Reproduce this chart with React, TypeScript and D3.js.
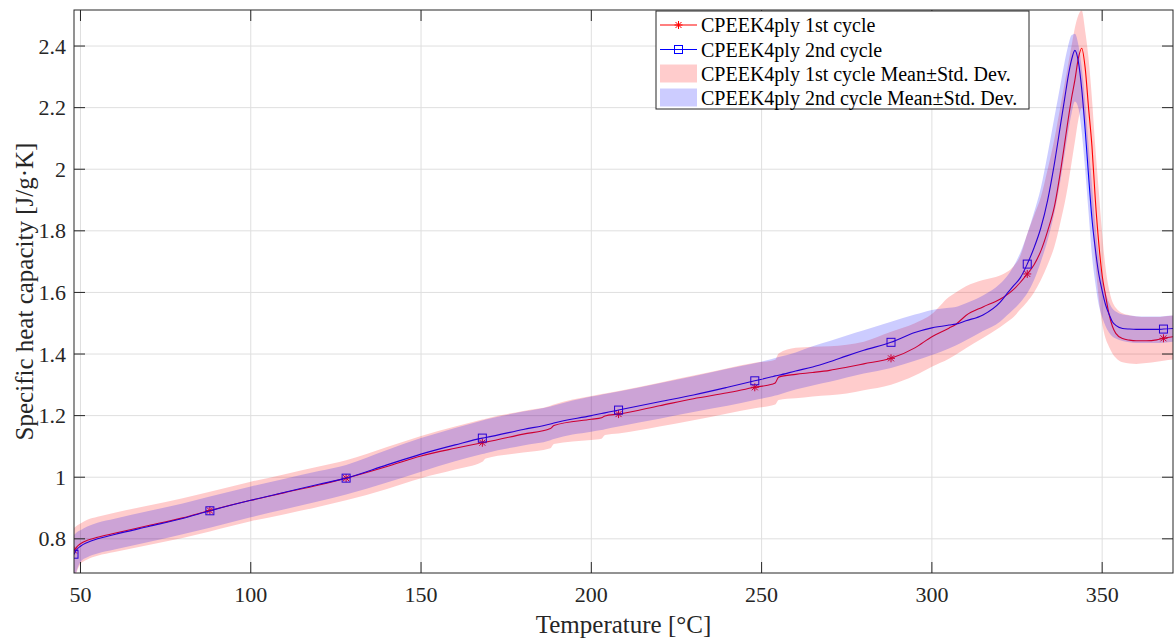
import React from "react";
import * as d3 from "d3";

// Temperature grid [°C]
const temps = [48.1, 49, 50, 52, 55, 60, 70, 80, 88,
  100, 110, 120, 128, 140, 150, 160, 168, 169,
  180, 188, 189, 200, 203, 204, 208, 220, 230, 240, 248,
  253, 254, 255, 260, 265, 270, 275, 280, 288, 295, 300,
  305, 307, 310, 315, 320, 322, 324, 326, 328, 330,
  332, 334, 336, 338, 339, 340, 341, 342, 343, 344, 345,
  346, 347, 348, 349, 350, 351, 352, 353, 354, 356,
  358, 360, 363, 366, 368, 370.8];

// 1st cycle mean
const cycle1Mean = [0.762, 0.775, 0.784, 0.795, 0.805, 0.818, 0.843, 0.868, 0.892,
  0.925, 0.950, 0.975, 0.997, 1.035, 1.069, 1.094, 1.112, 1.114,
  1.140, 1.158, 1.168, 1.188, 1.193, 1.199, 1.205, 1.232, 1.255, 1.274, 1.292,
  1.302, 1.306, 1.325, 1.334, 1.340, 1.347, 1.357, 1.368, 1.386, 1.420, 1.456,
  1.484, 1.496, 1.525, 1.553, 1.578, 1.592, 1.610, 1.633, 1.660, 1.690,
  1.735, 1.800, 1.880, 2.010, 2.085, 2.160, 2.230, 2.290, 2.360, 2.393, 2.330,
  2.200, 2.075, 1.900, 1.760, 1.655, 1.590, 1.530, 1.490, 1.467, 1.450,
  1.445, 1.443, 1.443, 1.446, 1.451, 1.456];

// 2nd cycle mean
const cycle2Mean = [0.750, 0.766, 0.776, 0.788, 0.800, 0.814, 0.840, 0.866, 0.891,
  0.925, 0.951, 0.977, 0.997, 1.040, 1.075, 1.105, 1.127, 1.129,
  1.155, 1.173, 1.176, 1.200, 1.207, 1.209, 1.218, 1.245, 1.267, 1.292, 1.313,
  1.326, 1.329, 1.331, 1.345, 1.358, 1.375, 1.394, 1.412, 1.438, 1.470, 1.485,
  1.494, 1.497, 1.508, 1.527, 1.568, 1.595, 1.622, 1.648, 1.692, 1.745,
  1.810, 1.900, 2.020, 2.160, 2.230, 2.300, 2.355, 2.386, 2.350, 2.260, 2.130,
  1.980, 1.840, 1.740, 1.660, 1.605, 1.560, 1.530, 1.505, 1.493, 1.483,
  1.481, 1.480, 1.480, 1.480, 1.481, 1.483];

// 1st cycle mean ± std. dev.
const cycle1Upper = [0.835, 0.843, 0.850, 0.862, 0.872, 0.885, 0.908, 0.932, 0.953,
  0.985, 1.010, 1.035, 1.055, 1.098, 1.134, 1.165, 1.187, 1.190,
  1.215, 1.232, 1.236, 1.264, 1.270, 1.272, 1.280, 1.307, 1.330, 1.354, 1.372,
  1.378, 1.381, 1.402, 1.420, 1.424, 1.425, 1.430, 1.440, 1.472, 1.500, 1.530,
  1.585, 1.600, 1.620, 1.640, 1.655, 1.666, 1.685, 1.720, 1.790, 1.850,
  1.910, 2.000, 2.100, 2.220, 2.280, 2.340, 2.400, 2.460, 2.500, 2.515, 2.450,
  2.360, 2.230, 2.070, 1.930, 1.790, 1.680, 1.610, 1.570, 1.550, 1.532,
  1.526, 1.522, 1.520, 1.520, 1.522, 1.525];

const cycle1Lower = [0.665, 0.695, 0.718, 0.733, 0.745, 0.757, 0.780, 0.803, 0.824,
  0.857, 0.880, 0.904, 0.925, 0.962, 0.997, 1.025, 1.050, 1.061,
  1.080, 1.094, 1.108, 1.121, 1.125, 1.137, 1.142, 1.165, 1.185, 1.207, 1.224,
  1.233, 1.236, 1.251, 1.256, 1.262, 1.266, 1.272, 1.282, 1.300, 1.330, 1.359,
  1.385, 1.398, 1.419, 1.452, 1.487, 1.503, 1.520, 1.545, 1.570, 1.600,
  1.640, 1.690, 1.750, 1.840, 1.890, 1.950, 2.020, 2.090, 2.160, 2.200, 2.140,
  2.000, 1.850, 1.700, 1.580, 1.500, 1.450, 1.424, 1.402, 1.388, 1.373,
  1.369, 1.368, 1.371, 1.375, 1.378, 1.382];

// 2nd cycle mean ± std. dev.
const cycle2Upper = [0.812, 0.822, 0.828, 0.840, 0.852, 0.865, 0.890, 0.915, 0.937,
  0.970, 0.995, 1.020, 1.040, 1.088, 1.127, 1.160, 1.184, 1.187,
  1.213, 1.230, 1.233, 1.262, 1.268, 1.270, 1.278, 1.305, 1.328, 1.352, 1.370,
  1.384, 1.387, 1.390, 1.405, 1.425, 1.442, 1.460, 1.477, 1.505, 1.528, 1.543,
  1.550, 1.553, 1.565, 1.590, 1.628, 1.652, 1.685, 1.730, 1.790, 1.860,
  1.940, 2.050, 2.170, 2.290, 2.350, 2.400, 2.435, 2.440, 2.405, 2.330, 2.220,
  2.080, 1.950, 1.820, 1.720, 1.650, 1.600, 1.568, 1.548, 1.538, 1.528,
  1.525, 1.523, 1.522, 1.522, 1.523, 1.525];

const cycle2Lower = [0.660, 0.700, 0.725, 0.740, 0.752, 0.765, 0.790, 0.815, 0.836,
  0.870, 0.896, 0.922, 0.944, 0.983, 1.018, 1.052, 1.075, 1.078,
  1.103, 1.120, 1.124, 1.148, 1.153, 1.156, 1.165, 1.190, 1.212, 1.232, 1.251,
  1.262, 1.265, 1.268, 1.285, 1.298, 1.310, 1.324, 1.337, 1.355, 1.378, 1.397,
  1.418, 1.428, 1.445, 1.475, 1.505, 1.525, 1.545, 1.568, 1.597, 1.640,
  1.700, 1.770, 1.860, 1.980, 2.050, 2.120, 2.180, 2.220, 2.200, 2.120, 2.000,
  1.860, 1.720, 1.630, 1.560, 1.520, 1.490, 1.470, 1.457, 1.450, 1.442,
  1.438, 1.436, 1.436, 1.436, 1.437, 1.440];

const markerTemps = [48.1, 88, 128, 168, 208, 248, 288, 328, 368];
const xTicks = [50, 100, 150, 200, 250, 300, 350];
const yTicks = [0.8, 1.0, 1.2, 1.4, 1.6, 1.8, 2.0, 2.2, 2.4];
const legendLabels = [
  "CPEEK4ply 1st cycle",
  "CPEEK4ply 2nd cycle",
  "CPEEK4ply 1st cycle Mean\u00B1Std. Dev.",
  "CPEEK4ply 2nd cycle Mean\u00B1Std. Dev.",
];

const W = 1174, H = 639;
const L = 74, R = 1173, T = 10, B = 573;
const FONT = "'Liberation Serif', 'Times New Roman', serif";
const AX = "#262626";
const RED = "#ff0000";
const BLUE = "#0000ff";

const starPath = "M-4,0L4,0M0,-4L0,4M-3,-3L3,3M-3,3L3,-3";

export default function App() {
  const x = d3.scaleLinear().domain([48.1, 370.8]).range([L, R]);
  const y = d3.scaleLinear().domain([0.689, 2.517]).range([B, T]);
  const idx = temps.map((_, i) => i);

  const line = (arr: number[]) =>
    d3.line<number>().x((i) => x(temps[i])).y((i) => y(arr[i])).curve(d3.curveMonotoneX)(idx) || "";
  const area = (lo: number[], hi: number[]) =>
    d3.area<number>().x((i) => x(temps[i])).y0((i) => y(lo[i])).y1((i) => y(hi[i])).curve(d3.curveMonotoneX)(idx) || "";

  const markerIdx = markerTemps.map((t) => temps.indexOf(t));
  const tickLen = 11;

  const rowY = [25, 49.5, 73.5, 97.5];

  return (
    <svg width={W} height={H} style={{ position: "absolute", left: 0, top: 0, background: "#fff" }}>
      <defs>
        <clipPath id="plotclip">
          <rect x={L} y={T} width={R - L} height={B - T} />
        </clipPath>
      </defs>
      <rect x={0} y={0} width={W} height={H} fill="#fff" />
      {/* grid */}
      {xTicks.map((t) => (
        <line key={"gx" + t} x1={x(t)} x2={x(t)} y1={T} y2={B} stroke="#dfdfdf" strokeWidth={1} />
      ))}
      {yTicks.map((t) => (
        <line key={"gy" + t} x1={L} x2={R} y1={y(t)} y2={y(t)} stroke="#dfdfdf" strokeWidth={1} />
      ))}
      <g clipPath="url(#plotclip)">
        {/* lines first (below bands) */}
        <path d={line(cycle1Mean)} fill="none" stroke={RED} strokeWidth={1.1} />
        {markerIdx.map((i) => (
          <path key={"s" + i} d={starPath} transform={`translate(${x(temps[i])},${y(cycle1Mean[i])})`} stroke={RED} strokeWidth={1} fill="none" />
        ))}
        <path d={line(cycle2Mean)} fill="none" stroke={BLUE} strokeWidth={1.1} />
        {markerIdx.map((i) => (
          <rect key={"q" + i} x={x(temps[i]) - 4} y={y(cycle2Mean[i]) - 4} width={8} height={8} stroke={BLUE} strokeWidth={1} fill="none" />
        ))}
        <path d={area(cycle1Lower, cycle1Upper)} fill={RED} fillOpacity={0.2} stroke="none" />
        <path d={area(cycle2Lower, cycle2Upper)} fill={BLUE} fillOpacity={0.2} stroke="none" />
      </g>
      {/* axes box */}
      <rect x={L} y={T} width={R - L} height={B - T} fill="none" stroke={AX} strokeWidth={1} />
      {xTicks.map((t) => (
        <g key={"tx" + t}>
          <line x1={x(t)} x2={x(t)} y1={B} y2={B - tickLen} stroke={AX} />
          <line x1={x(t)} x2={x(t)} y1={T} y2={T + tickLen} stroke={AX} />
          <text x={x(t)} y={602} textAnchor="middle" fontFamily={FONT} fontSize={22} fill={AX}>{t}</text>
        </g>
      ))}
      {yTicks.map((t) => (
        <g key={"ty" + t}>
          <line x1={L} x2={L + tickLen} y1={y(t)} y2={y(t)} stroke={AX} />
          <line x1={R} x2={R - tickLen} y1={y(t)} y2={y(t)} stroke={AX} />
          <text x={66} y={y(t) + 7.5} textAnchor="end" fontFamily={FONT} fontSize={22} fill={AX}>{String(+t.toFixed(1))}</text>
        </g>
      ))}
      <text x={(L + R) / 2} y={633} textAnchor="middle" fontFamily={FONT} fontSize={25} fill={AX}>Temperature [°C]</text>
      <text transform={`translate(33,${(T + B) / 2}) rotate(-90)`} textAnchor="middle" fontFamily={FONT} fontSize={25} fill={AX}>Specific heat capacity [J/g·K]</text>
      {/* legend */}
      <rect x={656} y={11} width={373} height={98} fill="#fff" stroke={AX} strokeWidth={1} />
      <line x1={660} x2={697} y1={rowY[0]} y2={rowY[0]} stroke={RED} strokeWidth={1.1} />
      <path d={starPath} transform={`translate(678.5,${rowY[0]})`} stroke={RED} fill="none" />
      <line x1={660} x2={697} y1={rowY[1]} y2={rowY[1]} stroke={BLUE} strokeWidth={1.1} />
      <rect x={674.5} y={rowY[1] - 4} width={8} height={8} stroke={BLUE} fill="none" />
      <rect x={660} y={rowY[2] - 9} width={37} height={18} fill={RED} fillOpacity={0.2} />
      <rect x={660} y={rowY[3] - 9} width={37} height={18} fill={BLUE} fillOpacity={0.2} />
      {legendLabels.map((s, i) => (
        <text key={s} x={701} y={rowY[i] + 7} fontFamily={FONT} fontSize={20} fill="#000">{s}</text>
      ))}
    </svg>
  );
}
